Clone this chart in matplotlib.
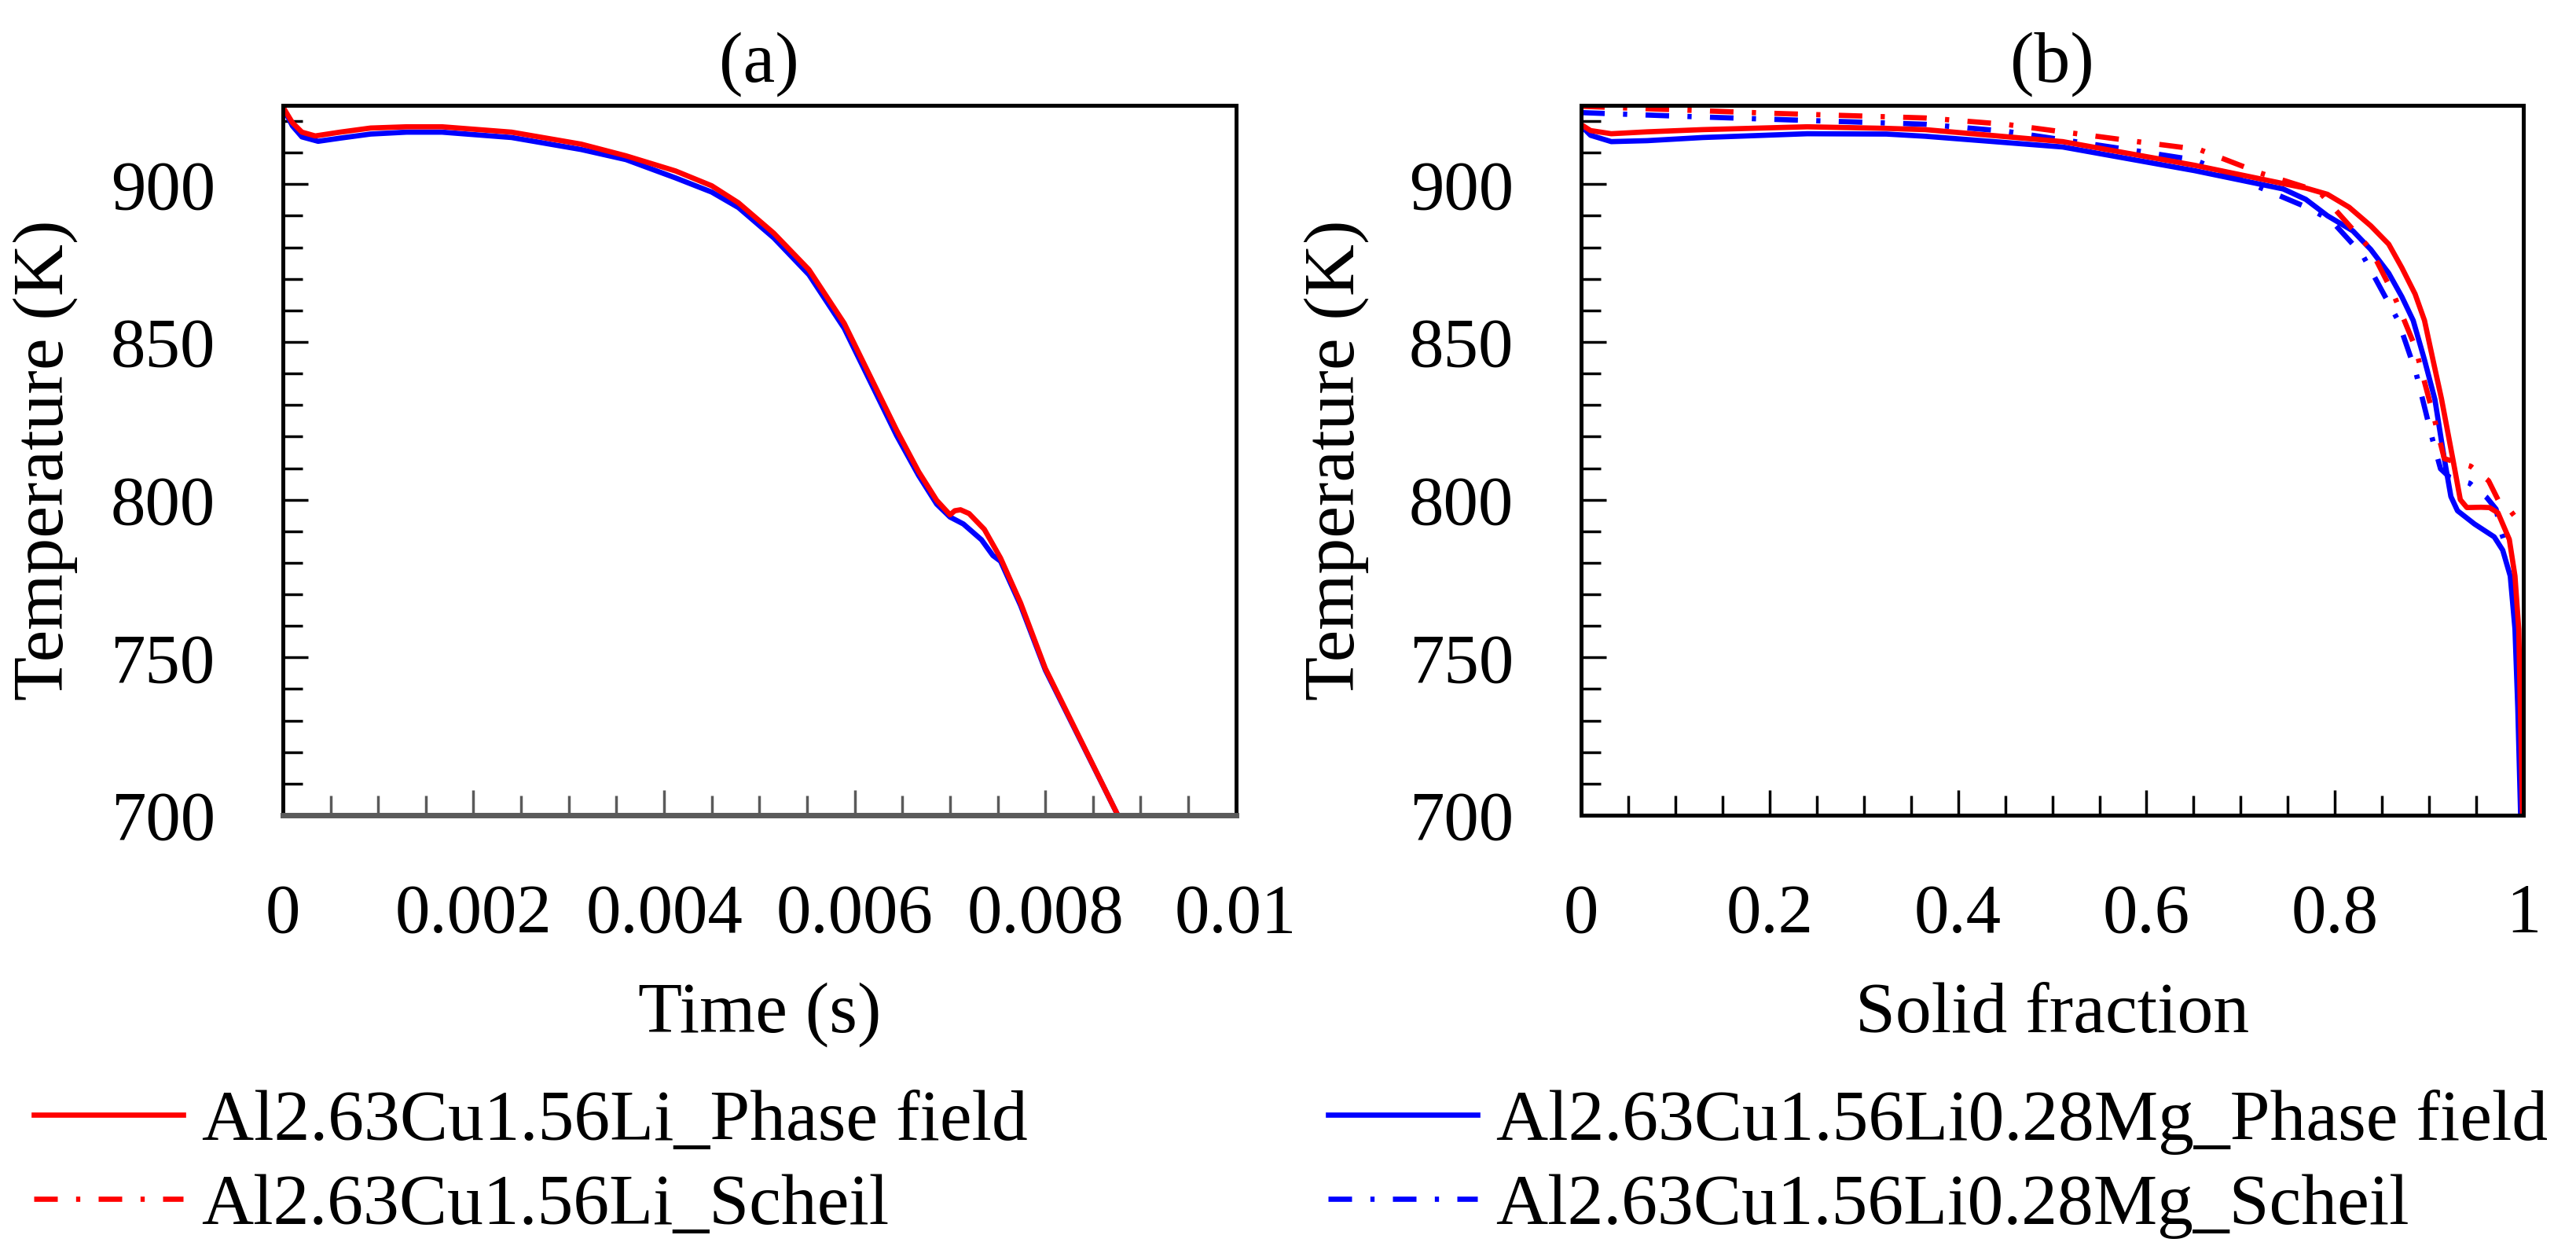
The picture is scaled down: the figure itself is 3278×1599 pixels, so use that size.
import matplotlib
matplotlib.use("Agg")
import matplotlib.pyplot as plt
from matplotlib.ticker import MultipleLocator

plt.rcParams["font.family"] = ["Liberation Serif", "DejaVu Serif"]

# (a) cooling curves: time (s) vs temperature (K)
time_li = [0, 0.0001, 0.0002, 0.00034, 0.0006, 0.00092, 0.0013, 0.00167, 0.0024,
           0.00313, 0.0036, 0.00412, 0.0045, 0.00478, 0.00515, 0.00552, 0.00589,
           0.00644, 0.00667, 0.00686, 0.0070, 0.00705, 0.00711, 0.0072, 0.00736,
           0.00753, 0.00774, 0.0080, 0.00876]
temp_li = [924.5, 919.5, 916.5, 915.3, 916.5, 917.8, 918.2, 918.2, 916.5,
           912.7, 909.0, 904.2, 899.5, 894.1, 884.5, 872.9, 855.9,
           822.0, 808.9, 799.8, 795.2, 796.5, 796.8, 795.6, 790.6,
           781.5, 767.3, 746.5, 700.0]

time_mg = [0, 0.0001, 0.0002, 0.00037, 0.0006, 0.00092, 0.0013, 0.00167, 0.0024,
           0.00313, 0.0036, 0.00412, 0.0045, 0.00478, 0.00515, 0.00552, 0.00589,
           0.00644, 0.00667, 0.00686, 0.0070, 0.00714, 0.00733, 0.00745, 0.00753,
           0.00774, 0.0080, 0.00876]
temp_mg = [924.5, 918.5, 915.0, 913.6, 914.6, 915.9, 916.5, 916.5, 914.8,
           911.0, 907.8, 902.0, 897.5, 892.6, 883.0, 871.3, 854.3,
           820.3, 807.7, 798.6, 794.5, 792.3, 787.3, 782.3, 780.5,
           766.5, 746.0, 700.0]

# (b) solid fraction vs temperature (K)
fs_li_pf = [0, 0.01, 0.032, 0.07, 0.129, 0.24, 0.324, 0.365, 0.511, 0.651, 0.745,
            0.77, 0.792, 0.815, 0.838, 0.857, 0.871, 0.885, 0.895, 0.904, 0.913,
            0.925, 0.933, 0.940, 0.955, 0.964, 0.973, 0.985, 0.991, 0.995, 0.997,
            0.999]
t_li_pf = [918.9, 917.0, 916.0, 916.6, 917.3, 918.2, 917.7, 917.3, 913.5, 906.0, 900.2,
           898.7, 896.8, 892.7, 886.8, 881.0, 873.5, 865.2, 856.8, 844.3, 832.0,
           813.0, 800.0, 797.5, 797.6, 797.5, 795.8, 787.4, 775.8, 759.0, 730.0,
           700.0]

fs_mg_pf = [0, 0.01, 0.032, 0.07, 0.129, 0.24, 0.324, 0.365, 0.511, 0.651, 0.745,
            0.769, 0.792, 0.819, 0.838, 0.857, 0.871, 0.883, 0.895, 0.906, 0.916,
            0.923, 0.930, 0.948, 0.969, 0.978, 0.986, 0.991, 0.994, 0.997]
t_mg_pf = [918.5, 915.5, 913.5, 913.8, 914.8, 916.0, 915.9, 915.2, 911.8, 904.3, 898.5,
           895.2, 890.0, 885.2, 879.3, 871.8, 864.3, 856.8, 844.3, 831.8, 813.0,
           801.0, 796.5, 792.3, 788.2, 784.0, 775.8, 759.0, 734.0, 700.0]

fs_li_scheil = [0, 0.1, 0.2, 0.365, 0.45, 0.59, 0.656, 0.721, 0.783, 0.838, 0.862,
                0.885, 0.906, 0.916, 0.944, 0.963, 0.973, 0.984, 0.99]
t_li_scheil = [924.7, 923.6, 922.5, 921.0, 919.0, 913.5, 911.0, 903.5, 897.7, 879.3, 865.2,
               848.5, 825.0, 813.0, 810.6, 806.0, 800.0, 797.3, 795.0]

fs_mg_scheil = [0, 0.1, 0.2, 0.365, 0.45, 0.58, 0.651, 0.77, 0.796, 0.829, 0.867,
                0.886, 0.904, 0.912, 0.922, 0.943, 0.961, 0.971, 0.976, 0.985]
t_mg_scheil = [922.7, 921.6, 920.6, 919.0, 916.8, 911.0, 907.7, 892.7, 888.5, 877.7, 856.8,
               840.2, 818.5, 809.8, 807.0, 805.2, 800.7, 797.0, 790.0, 782.3]

labels = ["Al2.63Cu1.56Li_Phase field", "Al2.63Cu1.56Li_Scheil",
          "Al2.63Cu1.56Li0.28Mg_Phase field", "Al2.63Cu1.56Li0.28Mg_Scheil"]

time_ticks = [0, 0.002, 0.004, 0.006, 0.008, 0.01]
time_ticklabels = ["0", "0.002", "0.004", "0.006", "0.008", "0.01"]
fs_ticks = [0, 0.2, 0.4, 0.6, 0.8, 1.0]
fs_ticklabels = ["0", "0.2", "0.4", "0.6", "0.8", "1"]
temp_ticks = [700, 750, 800, 850, 900]

RED = "#ff0000"
BLUE = "#0000ff"
LW = 4.8
DASHDOT = (0, (4.5, 3.5, 0.8, 3.5))
FS = 64

fig = plt.figure(figsize=(32.78, 15.99), dpi=100)
ax_a = fig.add_axes([0.1098, 0.3515, 0.3700, 0.5647])
ax_b = fig.add_axes([0.6138, 0.3515, 0.3658, 0.5647])

ax_a.plot(time_mg, temp_mg, color=BLUE, lw=LW)
ax_a.plot(time_li, temp_li, color=RED, lw=LW)

l2, = ax_b.plot(fs_mg_pf, t_mg_pf, color=BLUE, lw=LW)
l4, = ax_b.plot(fs_mg_scheil, t_mg_scheil, color=BLUE, lw=LW, ls=DASHDOT)
l3, = ax_b.plot(fs_li_scheil, t_li_scheil, color=RED, lw=LW, ls=DASHDOT)
l1, = ax_b.plot(fs_li_pf, t_li_pf, color=RED, lw=LW)

for ax, ticks, ticklabels, minor, xmax in [
        (ax_a, time_ticks, time_ticklabels, 0.0005, 0.01),
        (ax_b, fs_ticks, fs_ticklabels, 0.05, 1.0)]:
    ax.set_xlim(0, xmax)
    ax.set_ylim(700, 925)
    ax.set_xticks(ticks)
    ax.set_xticklabels(ticklabels)
    ax.xaxis.set_minor_locator(MultipleLocator(minor))
    ax.set_yticks(temp_ticks)
    ax.yaxis.set_minor_locator(MultipleLocator(10))
    ax.tick_params(which="both", direction="in", top=False, right=False,
                   width=2.5, labelsize=FS)
    ax.tick_params(which="major", length=23, pad=62)
    ax.tick_params(which="minor", length=18)
    for s in ax.spines.values():
        s.set_linewidth(3.6)
        s.set_color("black")
    ax.set_ylabel("Temperature (K)", fontsize=66)

ax_a.spines["bottom"].set_color("#5a5a5a")
ax_a.spines["bottom"].set_linewidth(5)
ax_a.tick_params(axis="x", which="both", color="#5a5a5a")

ax_a.set_xlabel("Time (s)", fontsize=66)
ax_b.set_xlabel("Solid fraction", fontsize=66)
ax_a.xaxis.set_label_coords(0.5, -0.235)
ax_b.xaxis.set_label_coords(0.5, -0.235)
ax_a.yaxis.set_label_coords(-0.215, 0.5)
ax_b.yaxis.set_label_coords(-0.225, 0.5)

ax_a.set_title("(a)", fontsize=66, pad=22)
ax_b.set_title("(b)", fontsize=66, pad=22)

leg_kw = dict(loc="upper left", frameon=False, fontsize=66, handlelength=2.07,
              handletextpad=0.26, labelspacing=0.26, borderpad=0, borderaxespad=0)
fig.legend([l1, l3], labels[:2], bbox_to_anchor=(43 / 3278, 0.1333), **leg_kw)
fig.legend([l2, l4], labels[2:], bbox_to_anchor=(1690 / 3278, 0.1333), **leg_kw)

fig.savefig("out.png", dpi=100)
